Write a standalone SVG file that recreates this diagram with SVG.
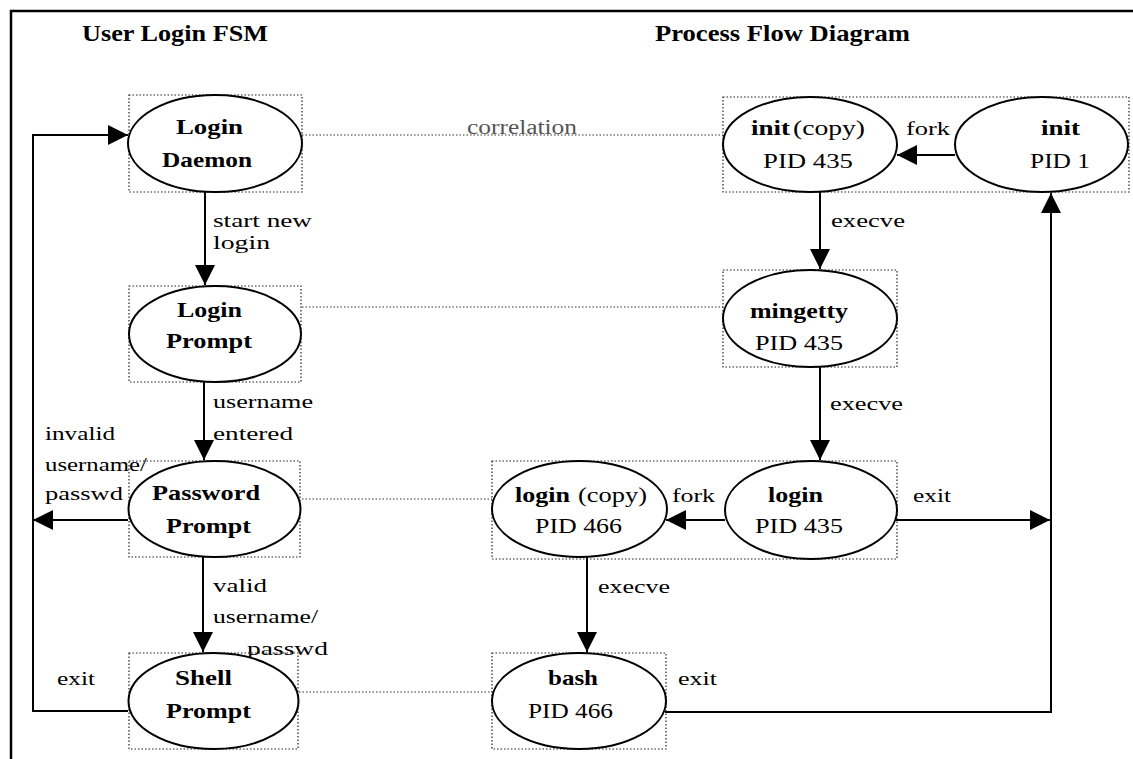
<svg xmlns="http://www.w3.org/2000/svg" width="1133" height="759" viewBox="0 0 1133 759">
<style>
.bg{fill:#fff}
.frame{fill:none;stroke:#000;stroke-width:2.5}
.box{fill:none;stroke:#222;stroke-width:1.2;stroke-dasharray:1.5 2}
.ell{fill:#fff;stroke:#000;stroke-width:2}
.edge{fill:none;stroke:#000;stroke-width:2}
.corr{fill:none;stroke:#333;stroke-width:1.2;stroke-dasharray:1.5 2}
text{font-family:"Liberation Serif","Times New Roman",serif;fill:#000}
.t{font-size:23px;font-weight:bold}
.b{font-size:22px;font-weight:bold}
.r{font-size:20px}
.l{font-size:19px}
.c{font-size:20px;fill:#555}
</style>
<defs>
<marker id="ah" markerUnits="userSpaceOnUse" markerWidth="20" markerHeight="20" refX="20" refY="10" orient="auto">
<path d="M0,0 L20,10 L0,20 z" fill="#000"/>
</marker>
</defs>
<rect class="bg" x="0" y="0" width="1133" height="759"/>
<path class="frame" d="M11 759 V11 H1133"/>
<text class="t" x="82" y="41" textLength="186" lengthAdjust="spacingAndGlyphs">User Login FSM</text>
<text class="t" x="655" y="41" textLength="255" lengthAdjust="spacingAndGlyphs">Process Flow Diagram</text>

<g id="connectors">
<path class="corr" d="M302 135 H723"/>
<path class="corr" d="M302 307 H723"/>
<path class="corr" d="M302 499 H492"/>
<path class="corr" d="M299 692 H492"/>
<path class="edge" d="M205 192 V285" marker-end="url(#ah)"/>
<path class="edge" d="M204 382 V460" marker-end="url(#ah)"/>
<path class="edge" d="M128 520 H33" marker-end="url(#ah)"/>
<path class="edge" d="M203 557 V652" marker-end="url(#ah)"/>
<path class="edge" d="M128 711 H33 V135 H128" marker-end="url(#ah)"/>
<path class="edge" d="M955 155 H897" marker-end="url(#ah)"/>
<path class="edge" d="M820 192 V269" marker-end="url(#ah)"/>
<path class="edge" d="M820 367 V460" marker-end="url(#ah)"/>
<path class="edge" d="M725 520 H666" marker-end="url(#ah)"/>
<path class="edge" d="M587 557 V652" marker-end="url(#ah)"/>
<path class="edge" d="M896 520 H1050" marker-end="url(#ah)"/>
<path class="edge" d="M665 712 H1051 V193" marker-end="url(#ah)"/>
<text class="l" x="213" y="227" textLength="99" lengthAdjust="spacingAndGlyphs">start new</text>
<text class="l" x="213" y="249" textLength="57" lengthAdjust="spacingAndGlyphs">login</text>
<text class="l" x="213" y="408" textLength="100" lengthAdjust="spacingAndGlyphs">username</text>
<text class="l" x="213" y="440" textLength="80" lengthAdjust="spacingAndGlyphs">entered</text>
<text class="l" x="45" y="440" textLength="70" lengthAdjust="spacingAndGlyphs">invalid</text>
<text class="l" x="45" y="471" textLength="102" lengthAdjust="spacingAndGlyphs">username/</text>
<text class="l" x="45" y="500" textLength="78" lengthAdjust="spacingAndGlyphs">passwd</text>
<text class="l" x="213" y="592" textLength="54" lengthAdjust="spacingAndGlyphs">valid</text>
<text class="l" x="213" y="623" textLength="105" lengthAdjust="spacingAndGlyphs">username/</text>
<text class="l" x="247" y="655" textLength="81" lengthAdjust="spacingAndGlyphs">passwd</text>
<text class="l" x="57" y="685" textLength="38" lengthAdjust="spacingAndGlyphs">exit</text>
<text class="c" x="467" y="134" textLength="110" lengthAdjust="spacingAndGlyphs">correlation</text>
<text class="l" x="906" y="135" textLength="44" lengthAdjust="spacingAndGlyphs">fork</text>
<text class="l" x="831" y="227" textLength="74" lengthAdjust="spacingAndGlyphs">execve</text>
<text class="l" x="830" y="410" textLength="73" lengthAdjust="spacingAndGlyphs">execve</text>
<text class="l" x="672" y="502" textLength="43" lengthAdjust="spacingAndGlyphs">fork</text>
<text class="l" x="913" y="502" textLength="38" lengthAdjust="spacingAndGlyphs">exit</text>
<text class="l" x="598" y="593" textLength="72" lengthAdjust="spacingAndGlyphs">execve</text>
<text class="l" x="678" y="685" textLength="39" lengthAdjust="spacingAndGlyphs">exit</text>
</g>

<g id="login-daemon">
<rect class="box" x="129" y="95" width="173" height="97"/>
<ellipse class="ell" cx="215" cy="143.5" rx="87" ry="48.5"/>
<text class="b" x="176" y="134" textLength="67" lengthAdjust="spacingAndGlyphs">Login</text>
<text class="b" x="162" y="167" textLength="90" lengthAdjust="spacingAndGlyphs">Daemon</text>
</g>
<g id="login-prompt">
<rect class="box" x="129" y="286" width="172" height="96"/>
<ellipse class="ell" cx="215" cy="334" rx="86" ry="48"/>
<text class="b" x="177" y="317" textLength="65" lengthAdjust="spacingAndGlyphs">Login</text>
<text class="b" x="166" y="348" textLength="86" lengthAdjust="spacingAndGlyphs">Prompt</text>
</g>
<g id="password-prompt">
<rect class="box" x="129" y="461" width="171" height="96"/>
<ellipse class="ell" cx="214.5" cy="509" rx="86" ry="48"/>
<text class="b" x="152" y="500" textLength="108" lengthAdjust="spacingAndGlyphs">Password</text>
<text class="b" x="166" y="533" textLength="85" lengthAdjust="spacingAndGlyphs">Prompt</text>
</g>
<g id="shell-prompt">
<rect class="box" x="129" y="653" width="169" height="96"/>
<ellipse class="ell" cx="213.5" cy="701" rx="85" ry="48"/>
<text class="b" x="175" y="685" textLength="57" lengthAdjust="spacingAndGlyphs">Shell</text>
<text class="b" x="166" y="718" textLength="85" lengthAdjust="spacingAndGlyphs">Prompt</text>
</g>
<g id="init-group">
<rect class="box" x="723" y="97" width="406" height="95"/>
</g>
<g id="init-copy">
<ellipse class="ell" cx="810" cy="144.5" rx="87" ry="47.5"/>
<text class="b" x="751" y="135" textLength="39" lengthAdjust="spacingAndGlyphs">init</text>
<text class="r" x="793" y="135" textLength="72" lengthAdjust="spacingAndGlyphs">(copy)</text>
<text class="r" x="763" y="168" textLength="90" lengthAdjust="spacingAndGlyphs">PID 435</text>
</g>
<g id="init-pid1">
<ellipse class="ell" cx="1041.5" cy="144.5" rx="86.5" ry="47.5"/>
<text class="b" x="1041" y="135" textLength="39" lengthAdjust="spacingAndGlyphs">init</text>
<text class="r" x="1030" y="168" textLength="60" lengthAdjust="spacingAndGlyphs">PID 1</text>
</g>
<g id="mingetty">
<rect class="box" x="723" y="270" width="174" height="97"/>
<ellipse class="ell" cx="810" cy="318.5" rx="87" ry="48.5"/>
<text class="b" x="750" y="318" textLength="98" lengthAdjust="spacingAndGlyphs">mingetty</text>
<text class="r" x="755" y="350" textLength="88" lengthAdjust="spacingAndGlyphs">PID 435</text>
</g>
<g id="login-group">
<rect class="box" x="492" y="461" width="405" height="98"/>
</g>
<g id="login-copy">
<ellipse class="ell" cx="579.5" cy="509" rx="87.5" ry="48"/>
<text class="b" x="515" y="502" textLength="55" lengthAdjust="spacingAndGlyphs">login</text>
<text class="r" x="578" y="502" textLength="69" lengthAdjust="spacingAndGlyphs">(copy)</text>
<text class="r" x="535" y="533" textLength="87" lengthAdjust="spacingAndGlyphs">PID 466</text>
</g>
<g id="login">
<ellipse class="ell" cx="811" cy="510" rx="86" ry="49"/>
<text class="b" x="768" y="502" textLength="55" lengthAdjust="spacingAndGlyphs">login</text>
<text class="r" x="755" y="533" textLength="88" lengthAdjust="spacingAndGlyphs">PID 435</text>
</g>
<g id="bash">
<rect class="box" x="492" y="653" width="174" height="96"/>
<ellipse class="ell" cx="579" cy="701" rx="87" ry="48"/>
<text class="b" x="548" y="685" textLength="50" lengthAdjust="spacingAndGlyphs">bash</text>
<text class="r" x="528" y="718" textLength="85" lengthAdjust="spacingAndGlyphs">PID 466</text>
</g>
</svg>
